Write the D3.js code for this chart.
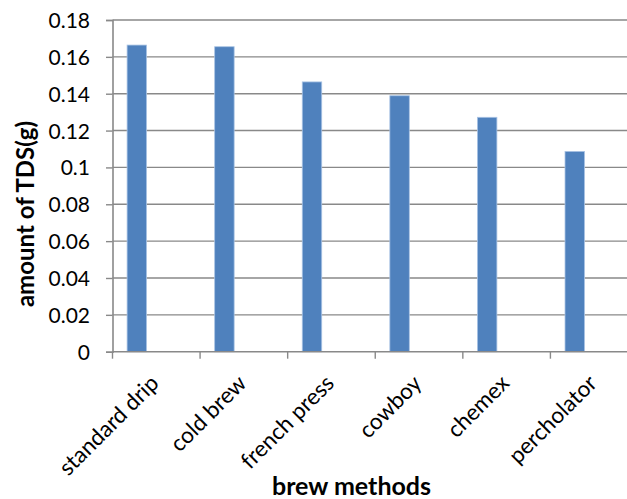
<!DOCTYPE html>
<html>
<head>
<meta charset="utf-8">
<script src="https://cdn.jsdelivr.net/npm/d3@7"></script>
<style>
  html, body { margin: 0; padding: 0; background: #ffffff; }
  svg { display: block; }
  text { font-family: Lato, "Open Sans", sans-serif; fill: #000; }
</style>
</head>
<body>
<svg id="chart" width="627" height="499"></svg>
<script>
// ---- data ----
const categories = ["standard drip", "cold brew", "french press", "cowboy", "chemex", "percholator"];
const tdsValues = [0.1664, 0.1655, 0.1464, 0.1389, 0.1272, 0.1087];
// Excel cluster has three series slots; only the first carries values
const seriesSlots = ["TDS", "slot2", "slot3"];
const yTickValues = [0, 0.02, 0.04, 0.06, 0.08, 0.1, 0.12, 0.14, 0.16, 0.18];
const yTickLabels = ["0", "0.02", "0.04", "0.06", "0.08", "0.1", "0.12", "0.14", "0.16", "0.18"];
const xTitle = "brew methods";
const yTitle = "amount of TDS(g)";

// ---- layout ----
const svg = d3.select("#chart");
const plot = { left: 112.5, right: 638, top: 20, bottom: 351.7 };

const x = d3.scaleBand().domain(categories).range([plot.left, plot.right]).paddingInner(0).paddingOuter(0);
const x1 = d3.scaleBand().domain(seriesSlots).range([0, x.bandwidth()]).paddingInner(0).paddingOuter(0.75);
const y = d3.scaleLinear().domain([0, 0.18]).range([plot.bottom, plot.top]);

const gridColor = "#898989";

// gridlines
svg.append("g")
  .selectAll("line")
  .data(yTickValues.filter(v => v > 0))
  .join("line")
  .attr("x1", plot.left).attr("x2", plot.right)
  .attr("y1", d => y(d)).attr("y2", d => y(d))
  .attr("stroke", gridColor).attr("stroke-width", 1.4);

// bars
svg.append("g")
  .selectAll("rect")
  .data(categories.map((c, i) => ({ c, v: tdsValues[i] })))
  .join("rect")
  .attr("x", d => x(d.c) + x1(seriesSlots[0]))
  .attr("width", x1.bandwidth())
  .attr("y", d => y(d.v))
  .attr("height", d => y(0) - y(d.v))
  .attr("fill", "#4f81bd")
  .attr("stroke", "#a9c3e4")
  .attr("stroke-width", 0.8);

// y axis
const yAxis = d3.axisLeft(y)
  .tickValues(yTickValues)
  .tickFormat((d, i) => yTickLabels[i])
  .tickSize(6.5)
  .tickPadding(16);
const gy = svg.append("g").attr("transform", `translate(${plot.left},0)`).call(yAxis);
gy.select(".domain").attr("stroke", gridColor).attr("stroke-width", 1.6);
gy.selectAll(".tick line").attr("stroke", gridColor).attr("stroke-width", 1.4);
gy.selectAll(".tick text")
  .attr("font-family", "Lato, 'Open Sans', sans-serif")
  .attr("font-size", 21)
  .attr("fill", "#000")
  .attr("dy", "0.36em");

// x axis: ticks between categories
const xBoundaries = d3.range(categories.length + 1).map(i => plot.left + i * x.step());
const gx = svg.append("g");
gx.append("line")
  .attr("x1", plot.left).attr("x2", plot.right)
  .attr("y1", y(0)).attr("y2", y(0))
  .attr("stroke", gridColor).attr("stroke-width", 1.6);
gx.selectAll("line.tick")
  .data(xBoundaries)
  .join("line")
  .attr("class", "tick")
  .attr("x1", d => d).attr("x2", d => d)
  .attr("y1", y(0)).attr("y2", y(0) + 7)
  .attr("stroke", gridColor).attr("stroke-width", 1.4);

gx.selectAll("text.xl")
  .data(categories)
  .join("text")
  .attr("class", "xl")
  .attr("transform", d => `translate(${x(d) + x.bandwidth() / 2 + 4},${y(0) + 33}) rotate(-45)`)
  .attr("text-anchor", "end")
  .attr("font-size", 22.5)
  .text(d => d);

// axis titles
svg.append("text")
  .attr("x", 351.5).attr("y", 495)
  .attr("text-anchor", "middle")
  .attr("font-weight", "bold")
  .attr("font-size", 25)
  .text(xTitle);

svg.append("text")
  .attr("transform", `translate(34,214) rotate(-90)`)
  .attr("text-anchor", "middle")
  .attr("font-weight", "bold")
  .attr("font-size", 24)
  .text(yTitle);
</script>
</body>
</html>
